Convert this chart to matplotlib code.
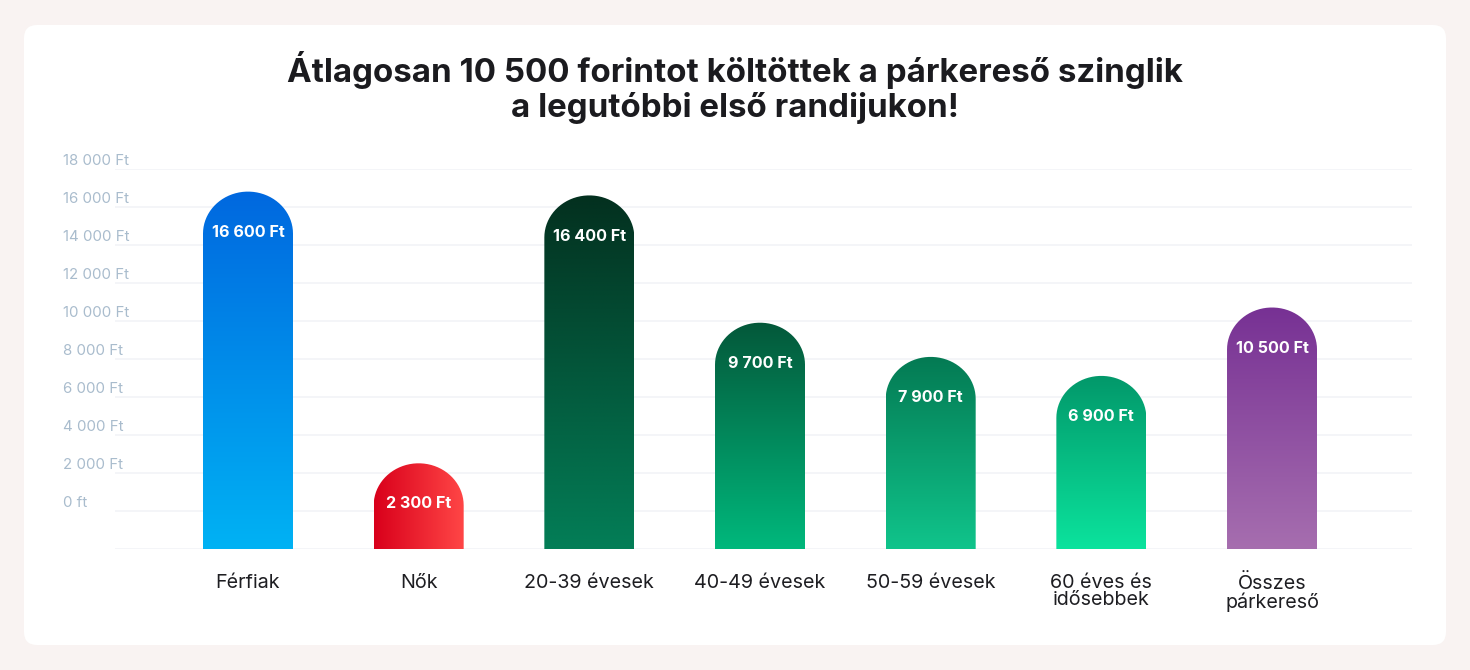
import numpy as np
import matplotlib
matplotlib.use("Agg")
import matplotlib.pyplot as plt
from matplotlib.patches import FancyBboxPatch, PathPatch
from matplotlib.path import Path
from matplotlib.colors import LinearSegmentedColormap

# ---------------- data ----------------
categories = ["Férfiak", "Nők", "20-39 évesek", "40-49 évesek", "50-59 évesek",
              "60 éves és\nidősebbek", "Összes\npárkereső"]
values = [16600, 2300, 16400, 9700, 7900, 6900, 10500]
value_labels = ["16 600 Ft", "2 300 Ft", "16 400 Ft", "9 700 Ft", "7 900 Ft",
                "6 900 Ft", "10 500 Ft"]
ytick_values = [0, 2000, 4000, 6000, 8000, 10000, 12000, 14000, 16000, 18000]
ytick_labels = ["0 ft", "2 000 Ft", "4 000 Ft", "6 000 Ft", "8 000 Ft",
                "10 000 Ft", "12 000 Ft", "14 000 Ft", "16 000 Ft", "18 000 Ft"]
grid_values = [0, 2000, 4000, 6000, 8000, 10000, 12000, 14000, 16000, 18000, 20000]
# gradient colours (start, end, direction)
grad_colors = [("#00b2f4", "#0068df", "v"),
               ("#d9001b", "#ff4646", "h"),
               ("#037e57", "#03301f", "v"),
               ("#00b87c", "#04583a", "v"),
               ("#10c48b", "#047a53", "v"),
               ("#0be39d", "#02986a", "v"),
               ("#a66eaf", "#773194", "v")]
title = "Átlagosan 10 500 forintot költöttek a párkereső szinglik\na legutóbbi első randijukon!"

# ---------------- figure ----------------
W, H, DPI = 1470, 670, 100
plt.rcParams["font.family"] = ["Inter", "DejaVu Sans"]
fig = plt.figure(figsize=(W / DPI, H / DPI), dpi=DPI, facecolor="#f9f3f2")

card = FancyBboxPatch((24 / W, 25 / H), (1446 - 24) / W, (645 - 25) / H,
                      boxstyle="round,pad=0,rounding_size=0.009",
                      transform=fig.transFigure, facecolor="white",
                      edgecolor="none", zorder=-10,
                      mutation_aspect=W / H)
fig.patches.append(card)

fig.text(735 / W, 1 - 87.5 / H, title, ha="center", va="center", fontsize=23.8,
         fontweight="bold", color="#1b1b1f", linespacing=1.13, zorder=5)

ax_left, ax_right, ax_bottom, ax_top = 115, 1412, 549, 169
ax = fig.add_axes([ax_left / W, 1 - ax_bottom / H, (ax_right - ax_left) / W,
                   (ax_bottom - ax_top) / H], zorder=2)
ax.set_facecolor("none")
spacing = 170.67
x0 = 248
ax.set_xlim((ax_left - x0) / spacing, (ax_right - x0) / spacing)
ax.set_ylim(0, 20000)
for s in ax.spines.values():
    s.set_visible(False)
ax.set_xticks([])
ax.set_yticks([])

for g in grid_values:
    ax.axhline(g, color="#f2f3f7", lw=1.2, zorder=1)

# y labels (placed above the gridline one step higher, as in the design)
for v, lab in zip(ytick_values, ytick_labels):
    ax.annotate(lab, xy=(63, v + 2000), xycoords=("figure pixels", "data"),
                xytext=(0, 5.5), textcoords="offset points", ha="left",
                va="center", fontsize=10.8, color="#a9bccd",
                annotation_clip=False)

# bars
bar_w_px = 90
bar_w = bar_w_px / spacing
units_per_px = 20000 / (ax_bottom - ax_top)
cap_h = 42 * units_per_px

for i, (v, (c0, c1, d)) in enumerate(zip(values, grad_colors)):
    xl, xr = i - bar_w / 2, i + bar_w / 2
    n = 40
    th = np.linspace(np.pi, 0, n)
    cx = i + (bar_w / 2) * np.cos(th)
    cy = v + cap_h * np.sin(th)
    verts = [(xl, 0)] + list(zip(cx, cy)) + [(xr, 0), (xl, 0)]
    codes = [Path.MOVETO] + [Path.LINETO] * (len(verts) - 2) + [Path.CLOSEPOLY]
    patch = PathPatch(Path(verts, codes), facecolor="none", edgecolor="none",
                      transform=ax.transData)
    ax.add_patch(patch)
    cmap = LinearSegmentedColormap.from_list("g%d" % i, [c0, c1])
    if d == "v":
        grad = np.linspace(0, 1, 256).reshape(-1, 1)
    else:
        grad = np.linspace(0, 1, 256).reshape(1, -1)
    im = ax.imshow(grad, cmap=cmap, aspect="auto", origin="lower",
                   extent=[xl, xr, 0, v + cap_h], zorder=2,
                   interpolation="bilinear")
    im.set_clip_path(patch)
    ax.annotate(value_labels[i], xy=(i, v), xycoords="data", xytext=(0, 1),
                textcoords="offset points", ha="center", va="center",
                fontsize=11.6, fontweight="bold", color="white", zorder=3)
    ax.annotate(categories[i], xy=(i, 0), xycoords="data", xytext=(0, -18),
                textcoords="offset points", ha="center", va="top",
                fontsize=14.2, color="#1e1e22", linespacing=0.95,
                annotation_clip=False)

ax.set_xlim((ax_left - x0) / spacing, (ax_right - x0) / spacing)
ax.set_ylim(0, 20000)

fig.savefig("out.png", dpi=DPI, facecolor=fig.get_facecolor())
